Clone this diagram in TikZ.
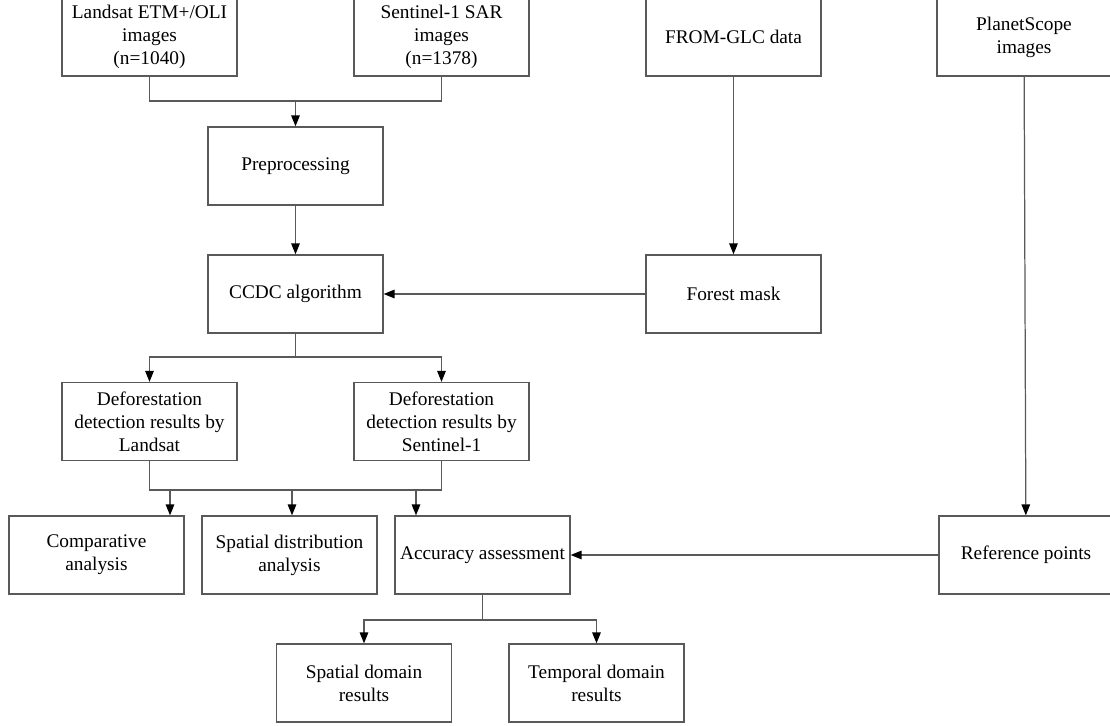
\documentclass[tikz,border=0pt]{standalone}
\usepackage{fontspec}
\setmainfont{Liberation Serif}
\usepackage{tikz}
\usetikzlibrary{arrows.meta}

\begin{document}
\begin{tikzpicture}[
  x=0.02cm, y=-0.02cm,
  every node/.style={font=\fontsize{11}{13.2}\selectfont, align=center},
  box/.style={draw=black!65, line width=0.7pt, minimum width=3.5cm, minimum height=1.56cm, inner sep=0pt},
  link/.style={draw=black!65, line width=0.7pt},
  arrow/.style={link, -{Triangle[length=2.2mm, width=1.7mm, color=black]}}
]
\useasboundingbox (0,0) rectangle (1110,726);
\clip (0,0) rectangle (1110,726);

% Inputs
\node[box] (landsat) at (149.5,37) {Landsat ETM+/OLI\\images\\(n=1040)};
\node[box] (sentinel) at (441.5,37) {Sentinel-1 SAR\\images\\(n=1378)};
\node[box] (fromglc) at (733.5,37) {FROM-GLC data};
\node[box, minimum width=3.48cm] (planet) at (1024,37) {PlanetScope\\images};

% Processing
\node[box] (prep) at (295.5,166) {Preprocessing};
\node[box] (ccdc) at (295.5,294) {CCDC algorithm};
\node[box] (mask) at (733.5,294) {Forest mask};

% Results
\node[box] (defl) at (149.5,421.5) {Deforestation\\detection results by\\Landsat};
\node[box] (defs) at (441.5,421.5) {Deforestation\\detection results by\\Sentinel-1};

% Analysis
\node[box] (comp) at (96.5,555) {Comparative\\analysis};
\node[box] (spat) at (289.5,555) {Spatial distribution\\analysis};
\node[box] (acc) at (482.5,555) {Accuracy assessment};
\node[box, minimum width=3.48cm] (ref) at (1026,555) {Reference points};

% Accuracy
\node[box] (sdom) at (364,683) {Spatial domain\\results};
\node[box] (tdom) at (596.5,683) {Temporal domain\\results};

% junctions
\coordinate (j1) at (295.5,101);
\coordinate (j2) at (295.5,357);
\coordinate (j3) at (295.5,490);
\coordinate (j4) at (482.5,620);
\coordinate (a1) at (170,490);
\coordinate (a2) at (292,490);
\coordinate (a3) at (416,490);

\draw[link] (landsat.south) |- (j1) -| (sentinel.south);
\draw[arrow] (j1) -- (prep);
\draw[arrow] (prep) -- (ccdc);
\draw[arrow] (fromglc) -- (mask);
\draw[arrow] (mask) -- (ccdc);

\draw[link] (ccdc) -- (j2);
\draw[arrow] (j2) -| (defl);
\draw[arrow] (j2) -| (defs);

\draw[link] (defl.south) |- (j3) -| (defs.south);
\draw[arrow] (a1) -- (a1 |- comp.north);
\draw[arrow] (a2) -- (a2 |- spat.north);
\draw[arrow] (a3) -- (a3 |- acc.north);

\draw[arrow] (planet) -- (ref);
\draw[arrow] (ref) -- (acc);

\draw[link] (acc) -- (j4);
\draw[arrow] (j4) -| (sdom);
\draw[arrow] (j4) -| (tdom);
\end{tikzpicture}
\end{document}
